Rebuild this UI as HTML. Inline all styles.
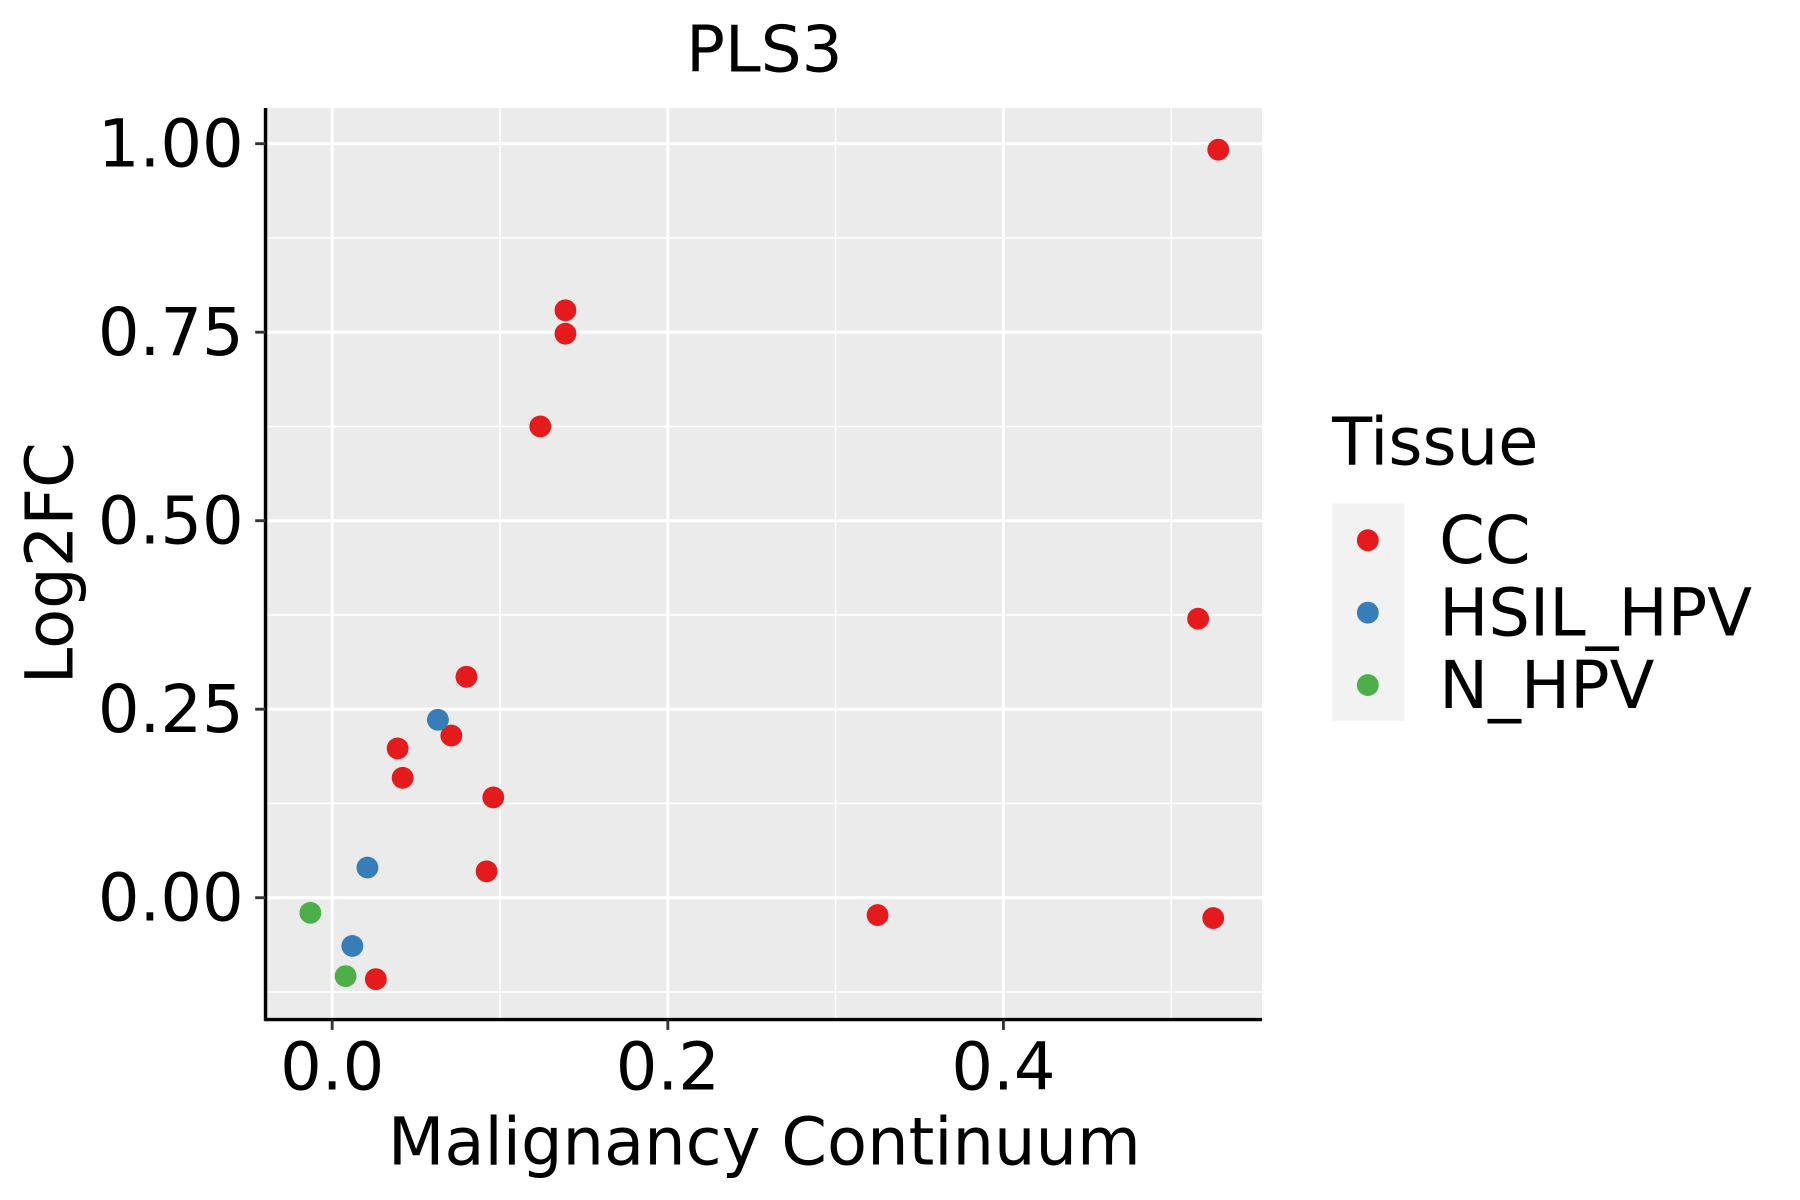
<!DOCTYPE html>
<html><head><meta charset="utf-8"><style>html,body{margin:0;padding:0;background:#fff}svg{display:block}text{font-family:"DejaVu Sans","Liberation Sans",sans-serif}</style></head>
<body>
<svg id="chart" width="1800" height="1200" viewBox="0 0 1566 1044" preserveAspectRatio="none" xmlns="http://www.w3.org/2000/svg">
<rect x="0" y="0" width="1566" height="1044" fill="#fff"/>
<rect x="231" y="94" width="867" height="793" fill="#EBEBEB"/>
<g id="grid"></g>
<g id="points"></g>
<line x1="231" y1="94" x2="231" y2="888" stroke="#000" stroke-width="3"/>
<line x1="230" y1="887" x2="1098" y2="887" stroke="#000" stroke-width="3"/>
<g id="ticks"></g>
<text x="665" y="62" font-size="56" text-anchor="middle">PLS3</text>
<text x="665" y="1013" font-size="57" text-anchor="middle">Malignancy Continuum</text>
<text transform="translate(63,490) rotate(-90)" font-size="57" text-anchor="middle">Log2FC</text>
<g>
<text x="1159" y="404" font-size="57">Tissue</text>
<rect x="1159" y="438" width="63" height="189" fill="#F2F2F2"/>
<circle cx="1190" cy="470" r="9.5" fill="#E41A1C"/>
<circle cx="1190" cy="533" r="9.5" fill="#377EB8"/>
<circle cx="1190" cy="596" r="9.5" fill="#4DAF4A"/>
<text x="1252" y="490" font-size="57">CC</text>
<text x="1252" y="553" font-size="57">HSIL_HPV</text>
<text x="1252" y="616" font-size="57">N_HPV</text>
</g>
</svg>
<script>
const xTicks = [0.0, 0.2, 0.4];
const xTickLabels = ["0.0", "0.2", "0.4"];
const xMinor = [0.1, 0.3, 0.5];
const yTicks = [0, 0.25, 0.5, 0.75, 1.0];
const yTickLabels = ["0.00", "0.25", "0.50", "0.75", "1.00"];
const yMinor = [-0.125, 0.125, 0.375, 0.625, 0.875];
const ccX = [0.528, 0.139, 0.139, 0.124, 0.516, 0.080, 0.071, 0.039, 0.042, 0.096, 0.092, 0.325, 0.525, 0.026];
const ccY = [0.992, 0.779, 0.748, 0.625, 0.370, 0.293, 0.215, 0.198, 0.159, 0.133, 0.035, -0.023, -0.027, -0.108];
const hsilX = [0.063, 0.021, 0.012];
const hsilY = [0.236, 0.040, -0.064];
const nX = [-0.013, 0.008];
const nY = [-0.020, -0.104];

const NS = "http://www.w3.org/2000/svg";
function sx(v){ return 289 + v * 1460; }
function sy(v){ return 781 - v * 656; }
function mk(tag, attrs, parent){ const e=document.createElementNS(NS,tag); for(const k in attrs) e.setAttribute(k,attrs[k]); parent.appendChild(e); return e; }
const grid=document.getElementById('grid'), pts=document.getElementById('points'), ticks=document.getElementById('ticks');
xMinor.forEach(v=>{ const l=mk('line',{x1:sx(v),x2:sx(v),y1:94,y2:887,stroke:'#fff','stroke-width':1.3},grid);

 });
yMinor.forEach(v=>{ const l=mk('line',{x1:231,x2:1098,y1:sy(v),y2:sy(v),stroke:'#fff','stroke-width':1.3},grid);

 });
xTicks.forEach((v,i)=>{ const l=mk('line',{x1:sx(v),x2:sx(v),y1:94,y2:887,stroke:'#fff','stroke-width':2.7},grid);


const t=mk('line',{x1:sx(v),x2:sx(v),y1:887,y2:896,stroke:'#333','stroke-width':2.5},ticks);


const tx=mk('text',{x:sx(v),y:948,'font-size':57,'text-anchor':'middle'},ticks); tx.textContent=xTickLabels[i];

 });
yTicks.forEach((v,i)=>{ const l=mk('line',{x1:231,x2:1098,y1:sy(v),y2:sy(v),stroke:'#fff','stroke-width':2.7},grid);


const t=mk('line',{x1:222,x2:231,y1:sy(v),y2:sy(v),stroke:'#333','stroke-width':2.5},ticks);


const tx=mk('text',{x:212,y:sy(v)+20,'font-size':57,'text-anchor':'end'},ticks); tx.textContent=yTickLabels[i];

 });
function series(xs, ys, color, name){ xs.forEach((x,i)=>{ const c=mk('circle',{cx:sx(x),cy:sy(ys[i]),r:9.5,fill:color},pts);

 }); }
series(ccX, ccY, '#E41A1C', 'point-cc');
series(hsilX, hsilY, '#377EB8', 'point-hsil-hpv');
series(nX, nY, '#4DAF4A', 'point-n-hpv');
</script>
</body></html>
